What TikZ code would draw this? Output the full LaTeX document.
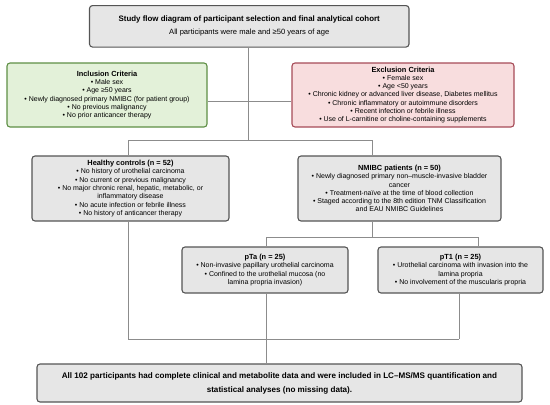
\documentclass[tikz,border=0pt]{standalone}
\usepackage{fontspec}
\setmainfont{Liberation Sans}
\definecolor{boxgray}{HTML}{E6E6E6}
\definecolor{boxline}{HTML}{555555}
\definecolor{incfill}{HTML}{E3F1D9}
\definecolor{incline}{HTML}{5E8F45}
\definecolor{excfill}{HTML}{F8DDDE}
\definecolor{excline}{HTML}{A64B57}
\definecolor{connline}{HTML}{8C8C8C}
\newcommand{\bodyfont}{\fontsize{7}{8.3}\selectfont}
\newcommand{\headfont}{\fontsize{7.4}{8.3}\selectfont\bfseries}
\begin{document}
\begin{tikzpicture}[x=1pt,y=-1pt,
  box/.style={draw=boxline, fill=boxgray, line width=1.1pt, rounded corners=3pt,
    inner sep=0pt, align=center, font=\bodyfont},
  incbox/.style={box, draw=incline, fill=incfill},
  excbox/.style={box, draw=excline, fill=excfill},
  conn/.style={draw=connline, line width=0.9pt}]
\useasboundingbox (0,0) rectangle (550,405);
% boxes
\node[box, minimum width=319.5pt, minimum height=41.5pt, font=\fontsize{7.6}{13}\selectfont] (title) at (249.25,26.3)
  {{\fontsize{7.9}{13}\selectfont\bfseries Study flow diagram of participant selection and final analytical cohort}\\All participants were male and ≥50 years of age};
\node[incbox, minimum width=200pt, minimum height=64pt] (inc) at (107,95)
  {{\headfont Inclusion Criteria}\\• Male sex\\• Age ≥50 years\\• Newly diagnosed primary NMIBC (for patient group)\\• No previous malignancy\\• No prior anticancer therapy};
\node[excbox, minimum width=222pt, minimum height=64pt] (exc) at (403,95)
  {{\headfont Exclusion Criteria}\\• Female sex\\• Age <50 years\\• Chronic kidney or advanced liver disease, Diabetes mellitus\\• Chronic inflammatory or autoimmune disorders\\• Recent infection or febrile illness\\• Use of L-carnitine or choline-containing supplements};
\node[box, minimum width=197pt, minimum height=65pt] (hc) at (130.5,188.5)
  {{\headfont Healthy controls (n = 52)}\\• No history of urothelial carcinoma\\• No current or previous malignancy\\• No major chronic renal, hepatic, metabolic, or\\inflammatory disease\\• No acute infection or febrile illness\\• No history of anticancer therapy};
\node[box, minimum width=203pt, minimum height=65pt] (nm) at (399.5,188.5)
  {{\headfont NMIBC patients (n = 50)}\\• Newly diagnosed primary non–muscle-invasive bladder\\cancer\\• Treatment-naïve at the time of blood collection\\• Staged according to the 8th edition TNM Classification\\and EAU NMIBC Guidelines};
\node[box, minimum width=166pt, minimum height=46pt] (pta) at (265,270)
  {{\headfont pTa (n = 25)}\\• Non-invasive papillary urothelial carcinoma\\• Confined to the urothelial mucosa (no\\lamina propria invasion)};
\node[box, minimum width=165pt, minimum height=46pt] (pt1) at (460.5,270)
  {{\headfont pT1 (n = 25)}\\• Urothelial carcinoma with invasion into the\\lamina propria\\• No involvement of the muscularis propria};
\node[box, minimum width=485pt, minimum height=38pt, font=\fontsize{8.1}{14}\selectfont\bfseries] (fin) at (279.5,383)
  {All 102 participants had complete clinical and metabolite data and were included in LC–MS/MS quantification and\\statistical analyses (no missing data).};
% junctions
\coordinate (top) at (248,140);
\coordinate (mid) at (248,101);
\coordinate (hcTop) at (128,140);
\coordinate (nmTop) at (372,140);
\coordinate (hcBot) at (128,339);
\coordinate (nmBot) at (372,237);
\coordinate (taTop) at (266,237);
\coordinate (t1Top) at (478,237);
\coordinate (t1Bot) at (459,339);
% connectors
\draw[conn] (title.south -| top) -- (top);
\draw[conn] (inc.east |- mid) -- (exc.west |- mid);
\draw[conn] (hcTop) -- (nmTop);
\draw[conn] (hcTop) -- (hcTop |- hc.north);
\draw[conn] (nmTop) -- (nmTop |- nm.north);
\draw[conn] (hc.south -| hcBot) -- (hcBot);
\draw[conn] (nm.south -| nmBot) -- (nmBot);
\draw[conn] (taTop) -- (t1Top);
\draw[conn] (taTop) -- (taTop |- pta.north);
\draw[conn] (t1Top) -- (t1Top |- pt1.north);
\draw[conn] (pt1.south -| t1Bot) -- (t1Bot);
\draw[conn] (hcBot) -- (t1Bot);
\draw[conn] (pta.south -| taTop) -- (taTop |- fin.north);
\end{tikzpicture}
\end{document}
